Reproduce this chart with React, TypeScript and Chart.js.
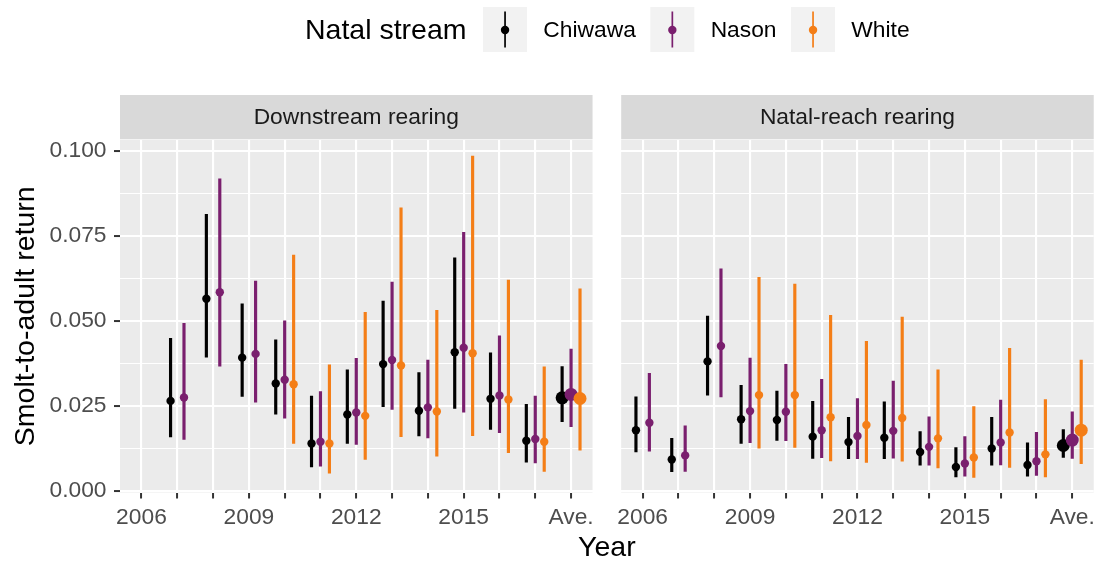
import React, { useEffect, useRef } from "react";
import { Chart, registerables } from "chart.js";

Chart.register(...registerables);

// ---------- data ----------
const years = ["2006", "2007", "2008", "2009", "2010", "2011", "2012", "2013", "2014", "2015", "2016", "2017", "Ave."];
const xTickLabels = ["2006", "", "", "2009", "", "", "2012", "", "", "2015", "", "", "Ave."];
const yMajorTicks = [0, 0.025, 0.05, 0.075, 0.1];
const yMinorTicks = [0.0125, 0.0375, 0.0625, 0.0875];
const facetLabels = ["Downstream rearing", "Natal-reach rearing"];
const streams = ["Chiwawa", "Nason", "White"];
const streamColors = ["#000000", "#7A1F6E", "#F47E17"];

// Downstream rearing
const downChiwawaEst = [null, 0.0265, 0.0565, 0.0392, 0.0316, 0.0140, 0.0225, 0.0373, 0.0236, 0.0408, 0.0271, 0.0148, 0.0274];
const downChiwawaLo = [null, 0.0159, 0.0393, 0.0278, 0.0226, 0.0071, 0.0140, 0.0248, 0.0162, 0.0243, 0.0181, 0.0085, 0.0204];
const downChiwawaHi = [null, 0.0449, 0.0813, 0.0550, 0.0444, 0.0279, 0.0356, 0.0558, 0.0348, 0.0685, 0.0406, 0.0255, 0.0366];
const downNasonEst = [null, 0.0275, 0.0584, 0.0403, 0.0327, 0.0145, 0.0231, 0.0385, 0.0246, 0.0421, 0.0281, 0.0153, 0.0284];
const downNasonLo = [null, 0.0152, 0.0367, 0.0261, 0.0214, 0.0073, 0.0137, 0.0240, 0.0156, 0.0232, 0.0172, 0.0083, 0.0189];
const downNasonHi = [null, 0.0493, 0.0917, 0.0617, 0.0500, 0.0292, 0.0390, 0.0614, 0.0385, 0.0760, 0.0456, 0.0279, 0.0417];
const downWhiteEst = [null, null, null, null, 0.0314, 0.0140, 0.0221, 0.0369, 0.0234, 0.0405, 0.0269, 0.0145, 0.0272];
const downWhiteLo = [null, null, null, null, 0.0140, 0.0053, 0.0093, 0.0160, 0.0103, 0.0163, 0.0113, 0.0058, 0.0120];
const downWhiteHi = [null, null, null, null, 0.0693, 0.0371, 0.0525, 0.0832, 0.0531, 0.0984, 0.0620, 0.0365, 0.0594];

// Natal-reach rearing
const natalChiwawaEst = [0.0179, 0.0093, 0.0381, 0.0211, 0.0209, 0.0160, 0.0144, 0.0157, 0.0115, 0.0071, 0.0125, 0.0077, 0.0134];
const natalChiwawaLo = [0.0115, 0.0057, 0.0282, 0.0140, 0.0149, 0.0096, 0.0095, 0.0095, 0.0076, 0.0042, 0.0076, 0.0044, 0.0099];
const natalChiwawaHi = [0.0277, 0.0155, 0.0514, 0.0311, 0.0294, 0.0264, 0.0217, 0.0262, 0.0175, 0.0128, 0.0217, 0.0142, 0.0181];
const natalNasonEst = [0.0201, 0.0105, 0.0426, 0.0235, 0.0233, 0.0179, 0.0162, 0.0177, 0.0130, 0.0081, 0.0143, 0.0088, 0.0150];
const natalNasonLo = [0.0117, 0.0058, 0.0277, 0.0142, 0.0148, 0.0098, 0.0095, 0.0097, 0.0076, 0.0044, 0.0077, 0.0046, 0.0096];
const natalNasonHi = [0.0346, 0.0192, 0.0653, 0.0391, 0.0372, 0.0328, 0.0272, 0.0323, 0.0218, 0.0160, 0.0267, 0.0173, 0.0233];
const natalWhiteEst = [null, null, null, 0.0282, 0.0282, 0.0217, 0.0194, 0.0215, 0.0155, 0.0099, 0.0172, 0.0108, 0.0179];
const natalWhiteLo = [null, null, null, 0.0126, 0.0128, 0.0089, 0.0084, 0.0088, 0.0068, 0.0040, 0.0070, 0.0042, 0.0081];
const natalWhiteHi = [null, null, null, 0.0628, 0.0608, 0.0516, 0.0440, 0.0511, 0.0356, 0.0248, 0.0419, 0.0269, 0.0385];

// ---------- layout constants ----------
const FONT = '"Liberation Sans", Arial, Helvetica, sans-serif';
const W = 1101;
const H = 563;
const PANEL_SHIFT = 14; // second facet placed after a gap on the same linear axis
const EXPAND = 0.6;
const DODGE = 0.75;
const STRIP_TOP = 95;
const POINT_R = 4.2;
const AVE_R = 6.5;

const panels = [
  {
    est: [downChiwawaEst, downNasonEst, downWhiteEst],
    lo: [downChiwawaLo, downNasonLo, downWhiteLo],
    hi: [downChiwawaHi, downNasonHi, downWhiteHi],
  },
  {
    est: [natalChiwawaEst, natalNasonEst, natalWhiteEst],
    lo: [natalChiwawaLo, natalNasonLo, natalWhiteLo],
    hi: [natalChiwawaHi, natalNasonHi, natalWhiteHi],
  },
];

const isMajor = (v: number) => yMajorTicks.some((m) => Math.abs(m - v) < 1e-9);

function buildDatasets() {
  const out: any[] = [];
  streams.forEach((name, s) => {
    const bars: any[] = [];
    const pts: any[] = [];
    panels.forEach((p, pi) => {
      years.forEach((_, i) => {
        const v = p.est[s][i];
        if (v == null) return;
        const present = streams.map((_, k) => k).filter((k) => p.est[k][i] != null);
        const n = present.length;
        const k = present.indexOf(s);
        const x = pi * PANEL_SHIFT + i - DODGE / 2 + (DODGE / n) * (k + 0.5);
        bars.push({ x, y: [p.lo[s][i], p.hi[s][i]] });
        pts.push({ x, y: v, ave: i === years.length - 1 });
      });
    });
    out.push({
      type: "bar",
      label: name + " interval",
      data: bars,
      backgroundColor: streamColors[s],
      borderWidth: 0,
      barThickness: 2.5,
      maxBarThickness: 2.5,
      grouped: false,
      order: 6 - s * 2,
    });
    out.push({
      type: "scatter",
      label: name,
      data: pts,
      backgroundColor: streamColors[s],
      borderWidth: 0,
      pointBorderWidth: 0,
      pointRadius: (ctx: any) => (ctx.raw && ctx.raw.ave ? AVE_R : POINT_R),
      showLine: false,
      order: 5 - s * 2,
    });
  });
  return out;
}

const facetPlugin = {
  id: "facetDecor",
  beforeDraw(chart: any) {
    const { ctx, chartArea, scales } = chart;
    const x = scales.x;
    ctx.save();
    facetLabels.forEach((label, p) => {
      const l = x.getPixelForValue(p * PANEL_SHIFT - EXPAND);
      const r = x.getPixelForValue(p * PANEL_SHIFT + years.length - 1 + EXPAND);
      ctx.fillStyle = "#EBEBEB";
      ctx.fillRect(l, chartArea.top, r - l, chartArea.bottom - chartArea.top);
      ctx.fillStyle = "#D9D9D9";
      ctx.fillRect(l, STRIP_TOP, r - l, chartArea.top - STRIP_TOP - 0.7);
      ctx.fillStyle = "#1A1A1A";
      ctx.font = `22.8px ${FONT}`;
      ctx.textAlign = "center";
      ctx.textBaseline = "middle";
      ctx.fillText(label, (l + r) / 2, (STRIP_TOP + chartArea.top) / 2 + 0.5);
    });
    ctx.restore();
  },
  afterDraw(chart: any) {
    const { ctx } = chart;
    ctx.save();
    const cy = 31;
    let x = 305;
    ctx.textBaseline = "middle";
    ctx.textAlign = "left";
    ctx.fillStyle = "#000000";
    ctx.font = `28.5px ${FONT}`;
    ctx.fillText("Natal stream", x, cy);
    x += ctx.measureText("Natal stream").width + 16.5;
    streams.forEach((name, s) => {
      const bw = 44;
      ctx.fillStyle = "#F2F2F2";
      ctx.fillRect(x, 7, bw, 45);
      const cx = x + bw / 2;
      ctx.strokeStyle = streamColors[s];
      ctx.lineWidth = 1.7;
      ctx.beginPath();
      ctx.moveTo(cx, 11.5);
      ctx.lineTo(cx, 47.5);
      ctx.stroke();
      ctx.fillStyle = streamColors[s];
      ctx.beginPath();
      ctx.arc(cx, 30, POINT_R, 0, Math.PI * 2);
      ctx.fill();
      x += bw + 16.3;
      ctx.fillStyle = "#000000";
      ctx.font = `22.8px ${FONT}`;
      ctx.fillText(name, x, cy);
      x += ctx.measureText(name).width + 14.5;
    });
    ctx.restore();
  },
};

export default function App() {
  const ref = useRef<HTMLCanvasElement | null>(null);

  useEffect(() => {
    if (!ref.current) return;
    Chart.defaults.font.family = FONT;
    const xTicks: number[] = [];
    facetLabels.forEach((_, p) => years.forEach((_, i) => xTicks.push(p * PANEL_SHIFT + i)));
    const yTicks = [...yMajorTicks, ...yMinorTicks].sort((a, b) => a - b);

    const chart = new Chart(ref.current, {
      type: "scatter",
      data: { datasets: buildDatasets() },
      options: {
        responsive: false,
        devicePixelRatio: 1,
        animation: false,
        events: [],
        layout: { padding: { top: 140, right: 3.7, bottom: 0, left: 0 } },
        plugins: {
          legend: { display: false },
          tooltip: { enabled: false },
          title: { display: false },
        },
        scales: {
          x: {
            type: "linear",
            min: -EXPAND,
            max: PANEL_SHIFT + years.length - 1 + EXPAND,
            offset: false,
            afterFit: (s: any) => {
              s.height = 70.5;
            },
            afterBuildTicks: (s: any) => {
              s.ticks = xTicks.map((v) => ({ value: v }));
            },
            ticks: {
              autoSkip: false,
              maxRotation: 0,
              minRotation: 0,
              padding: 6,
              color: "#4D4D4D",
              font: { size: 22.8, family: FONT },
              callback: (v: any) => {
                const i = Math.round(Number(v)) % PANEL_SHIFT;
                return xTickLabels[i] ?? "";
              },
            },
            grid: {
              offset: false,
              color: "#FFFFFF",
              lineWidth: 2.1,
              tickColor: "#333333",
              tickLength: 6,
              tickWidth: 2,
            },
            border: { display: false },
            title: {
              display: true,
              text: "Year",
              color: "#000000",
              font: { size: 28.5, family: FONT },
              padding: { top: 0, bottom: -2 },
            },
          },
          y: {
            type: "linear",
            min: -0.0004,
            max: 0.1031,
            beginAtZero: false,
            afterFit: (s: any) => {
              s.width = 120;
            },
            afterBuildTicks: (s: any) => {
              s.ticks = yTicks.map((v) => ({ value: v }));
            },
            ticks: {
              padding: 7.5,
              color: "#4D4D4D",
              font: { size: 22.8, family: FONT },
              callback: (v: any) => (isMajor(Number(v)) ? Number(v).toFixed(3) : ""),
            },
            grid: {
              color: "#FFFFFF",
              lineWidth: (c: any) => (c.tick && isMajor(c.tick.value) ? 2.1 : 1.1),
              tickColor: (c: any) => (c.tick && isMajor(c.tick.value) ? "#333333" : "rgba(0,0,0,0)"),
              tickLength: 6,
              tickWidth: 2,
            },
            border: { display: false },
            title: {
              display: true,
              text: "Smolt-to-adult return",
              color: "#000000",
              font: { size: 28.5, family: FONT },
              padding: { top: 9, bottom: 0 },
            },
          },
        },
      } as any,
      plugins: [facetPlugin],
    });
    return () => chart.destroy();
  }, []);

  return (
    <div style={{ position: "fixed", left: 0, top: 0, width: W, height: H, background: "#FFFFFF" }}>
      <canvas ref={ref} width={W} height={H} style={{ display: "block", width: W, height: H }} />
    </div>
  );
}
